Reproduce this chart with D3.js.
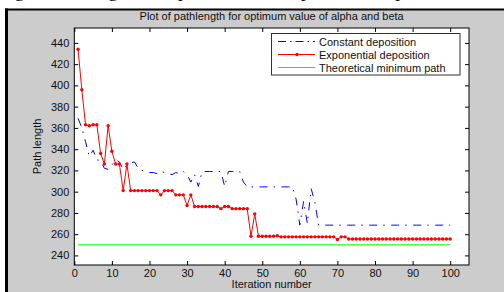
<!DOCTYPE html>
<html><head><meta charset="utf-8">
<script src="https://cdn.jsdelivr.net/npm/d3@7"></script>
<style>body{margin:0;background:#fff;} svg{display:block;}</style>
</head><body><svg id="c" width="504" height="292"></svg>
<script>
// ---- data ----
const exponentialDeposition = [
  434,396,363,362,363,363,336,326,362,338,
  326,326,301,326,301,301,301,301,301,301,
  301,301,297,301,301,301,297,297,297,287,
  297,286,286,286,286,286,286,286,284,286,
  286,284,284,284,284,284,258,279,258,258,
  258,258,258,258.5,257.5,257.5,257.5,257.5,257.5,257.5,
  257.5,257.5,257.5,257.5,257.5,257.5,257.5,257.5,257.5,255,
  257.5,257.5,255.5,255.5,255.5,255.5,255.5,255.5,255.5,255.5,
  255.5,255.5,255.5,255.5,255.5,255.5,255.5,255.5,255.5,255.5,
  255.5,255.5,255.5,255.5,255.5,255.5,255.5,255.5,255.5,255.5
];
const constantDeposition = [
  369,360,347,333,339,330,329,322,321,325,
  330,328,321,325,327,328,322,320,319,318,
  318,317,319,318,317,316,318,317,319,316,
  309,316,305,319,319,319,319,319,319,305,
  319,319,319,319,309,304.5,304.5,304.5,304.5,304.5,
  304.5,304.5,304.5,304.5,304.5,304.5,304.5,304.5,293,268.5,
  291,270,303,290,268.5,268.5,268.5,268.5,268.5,268.5,
  268.5,268.5,268.5,268.5,268.5,268.5,268.5,268.5,268.5,268.5,
  268.5,268.5,268.5,268.5,268.5,268.5,268.5,268.5,268.5,268.5,
  268.5,268.5,268.5,268.5,268.5,268.5,268.5,268.5,268.5,268.5
];
const theoreticalMin = 250;
const theoreticalRange = [1, 100];
const xTicks = [0,10,20,30,40,50,60,70,80,90,100];
const yTicks = [240,260,280,300,320,340,360,380,400,420,440];
const seriesNames = ["Constant deposition","Exponential deposition","Theoretical minimum path"];
const titleText = "Plot of pathlength for optimum value of alpha and beta";
const xLabel = "Iteration number";
const yLabel = "Path length";

// ---- drawing ----
const svg = d3.select("#c");
const font = "'Liberation Sans', Arial, sans-serif";
svg.append("rect").attr("width",504).attr("height",292).attr("fill","#fff");
svg.append("text").attr("x",0).attr("y",-3)
  .attr("font-family","'Liberation Serif', 'Times New Roman', serif").attr("font-size",19)
  .attr("fill","#000")
  .text("ing the convergence of path for the sample of the deposition rate");
svg.append("rect").attr("x",8).attr("y",10).attr("width",496).attr("height",282).attr("fill","#cccccc");
svg.append("rect").attr("x",5).attr("y",8.5).attr("width",3).attr("height",284).attr("fill","#000");
svg.append("rect").attr("x",5).attr("y",8.5).attr("width",499).attr("height",2).attr("fill","#000");

const L=74.3, R=469, T=28, B=265;
const x = d3.scaleLinear().domain([0,105]).range([L,R]);
const y = d3.scaleLinear().domain([231,454]).range([B,T]);

svg.append("rect").attr("x",L).attr("y",T).attr("width",R-L).attr("height",B-T).attr("fill","#fff");

function styleAxis(g, labels){
  g.select(".domain").remove();
  g.selectAll(".tick line").attr("stroke","#000");
  g.selectAll("text").attr("font-family",font).attr("font-size",11).attr("fill","#111");
  if(!labels) g.selectAll("text").remove();
}
svg.append("g").attr("transform",`translate(0,${B})`)
  .call(d3.axisBottom(x).tickValues(xTicks).tickSizeInner(-4).tickSizeOuter(0).tickPadding(4))
  .call(g=>styleAxis(g,true));
svg.append("g").attr("transform",`translate(0,${T})`)
  .call(d3.axisTop(x).tickValues(xTicks).tickSizeInner(-4).tickSizeOuter(0))
  .call(g=>styleAxis(g,false));
svg.append("g").attr("transform",`translate(${L},0)`)
  .call(d3.axisLeft(y).tickValues(yTicks).tickSizeInner(-4).tickSizeOuter(0).tickPadding(5))
  .call(g=>styleAxis(g,true));
svg.append("g").attr("transform",`translate(${R},0)`)
  .call(d3.axisRight(y).tickValues(yTicks).tickSizeInner(-4).tickSizeOuter(0))
  .call(g=>styleAxis(g,false));

const line = d3.line().x((d,i)=>x(i+1)).y(d=>y(d));
svg.append("line").attr("x1",x(theoreticalRange[0])).attr("x2",x(theoreticalRange[1]))
  .attr("y1",y(theoreticalMin)).attr("y2",y(theoreticalMin))
  .attr("stroke","#00ff00").attr("stroke-width",1);
svg.append("path").datum(constantDeposition).attr("d",line).attr("fill","none")
  .attr("stroke","#0000ff").attr("stroke-width",1).attr("stroke-dasharray","8,6,1.5,6.5");
svg.append("path").datum(exponentialDeposition).attr("d",line).attr("fill","none")
  .attr("stroke","#ff0000").attr("stroke-width",1);
svg.append("g").selectAll("circle").data(exponentialDeposition).join("circle")
  .attr("cx",(d,i)=>x(i+1)).attr("cy",d=>y(d)).attr("r",1.7).attr("fill","#ff0000");

svg.append("rect").attr("x",L).attr("y",T).attr("width",R-L).attr("height",B-T)
  .attr("fill","none").attr("stroke","#000").attr("stroke-width",1);

const lg = svg.append("g");
lg.append("rect").attr("x",271.5).attr("y",33.5).attr("width",188.5).attr("height",41.5)
  .attr("fill","#fff").attr("stroke","#333").attr("stroke-width",1);
const rowsY=[41.5,54.5,67.5];
const styles=[{c:"#0000ff",dash:"8,4,1.5,4"},{c:"#ff0000",dash:null,m:true},{c:"#00ff00",dash:null}];
seriesNames.forEach((n,k)=>{
  const l = lg.append("line").attr("x1",278).attr("x2",315).attr("y1",rowsY[k]).attr("y2",rowsY[k])
    .attr("stroke",styles[k].c).attr("stroke-width",1);
  if(styles[k].dash) l.attr("stroke-dasharray",styles[k].dash);
  if(styles[k].m) lg.append("circle").attr("cx",297).attr("cy",rowsY[k]).attr("r",1.7).attr("fill","#ff0000");
  lg.append("text").attr("x",319).attr("y",rowsY[k]+4).attr("font-family",font).attr("font-size",11)
    .attr("fill","#111").text(n);
});

svg.append("text").attr("x",(L+R)/2).attr("y",20).attr("text-anchor","middle")
  .attr("font-family",font).attr("font-size",11).attr("fill","#111").text(titleText);
svg.append("text").attr("x",(L+R)/2).attr("y",288).attr("text-anchor","middle")
  .attr("font-family",font).attr("font-size",11).attr("fill","#111").text(xLabel);
svg.append("text").attr("transform",`translate(41,${(T+B)/2}) rotate(-90)`).attr("text-anchor","middle")
  .attr("font-family",font).attr("font-size",11).attr("fill","#111").text(yLabel);
</script></body></html>
